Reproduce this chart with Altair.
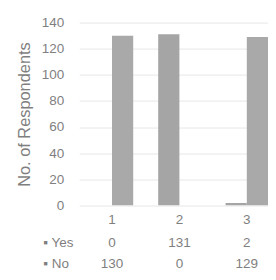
import altair as alt
import pandas as pd

categories = ["1", "2", "3"]
series = ["Yes", "No"]
yes_values = [0, 131, 2]
no_values = [130, 0, 129]
y_ticks = [0, 20, 40, 60, 80, 100, 120, 140]
row_labels = ["\u25aa Yes", "\u25aa No"]

rows = []
for i, c in enumerate(categories):
    rows.append({"category": c, "series": "Yes", "label": row_labels[0], "value": yes_values[i]})
    rows.append({"category": c, "series": "No", "label": row_labels[1], "value": no_values[i]})
df = pd.DataFrame(rows)

FONT = "Liberation Sans"
TXT = "#7f7f7f"

xscale = alt.Scale(domain=categories, paddingInner=0.371, paddingOuter=0.0857, align=1)

bars = alt.Chart(df).mark_bar(clip=True).encode(
    x=alt.X("category:N", scale=xscale,
            axis=alt.Axis(title=None, labelAngle=0, domain=False, ticks=False, grid=False,
                          labelPadding=8, labelFontSize=14, labelColor=TXT, labelFont=FONT)),
    xOffset=alt.XOffset("series:N", scale=alt.Scale(domain=series)),
    y=alt.Y("value:Q", scale=alt.Scale(domain=[0, 140]),
            axis=alt.Axis(values=y_ticks, title="No. of Respondents", domain=False, ticks=False,
                          labelPadding=16, labelFontSize=14, labelColor=TXT, labelFont=FONT,
                          minExtent=40, maxExtent=40,
                          titleFontSize=17, titleFontWeight="normal", titleColor=TXT, titleFont=FONT,
                          titlePadding=8, gridColor="#e6e6e6", gridWidth=1)),
    color=alt.Color("series:N", scale=alt.Scale(domain=series, range=["#a5a5a5", "#a9a9a9"]), legend=None),
).properties(width=196, height=190)

table = alt.Chart(df).mark_text(fontSize=14, color=TXT, font=FONT).encode(
    x=alt.X("category:N", scale=xscale, axis=None),
    y=alt.Y("label:N", sort=row_labels,
            scale=alt.Scale(type="band", domain=row_labels, paddingInner=0.5, paddingOuter=0),
            axis=alt.Axis(title=None, domain=False, ticks=False, grid=False, labelAlign="left",
                          labelPadding=38, labelFontSize=14, labelColor=TXT, labelFont=FONT)),
    text="value:Q",
).properties(width=196, height=34)

chart = alt.vconcat(bars, table, spacing=9).resolve_scale(x="shared").properties(
    padding={"top": 3, "left": 8, "right": 0, "bottom": 0},
    background="white",
).configure_view(stroke=None)

chart.save("out.html", embed_options={"renderer": "svg", "actions": False})
